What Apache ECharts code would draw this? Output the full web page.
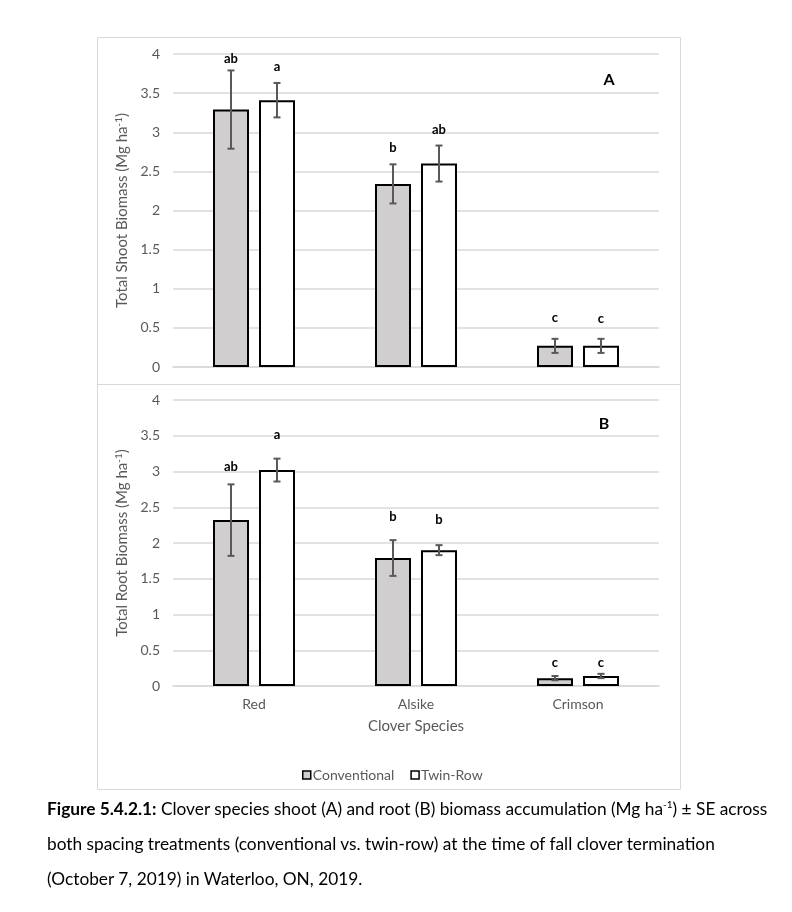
<!DOCTYPE html>
<html>
<head>
<meta charset="utf-8">
<script src="https://cdn.jsdelivr.net/npm/echarts@6/dist/echarts.min.js"></script>
<style>
  html, body { margin: 0; padding: 0; background: #fff; }
  #chart { position: absolute; left: 0; top: 0; width: 792px; height: 912px; }
  .caption {
    position: absolute; left: 47px; top: 791px;
    font-family: Lato, 'Open Sans', sans-serif; font-size: 17.3px; color: #000;
    line-height: 35px; white-space: nowrap;
  }
  .caption sup { font-size: 10px; vertical-align: 7px; line-height: 0; }
</style>
</head>
<body>
<div id="chart"></div>
<div class="caption">
  <b>Figure 5.4.2.1:</b> Clover species shoot (A) and root (B) biomass accumulation (Mg ha<sup>-1</sup>) ± SE across<br>
  both spacing treatments (conventional vs. twin-row) at the time of fall clover termination<br>
  (October 7, 2019) in Waterloo, ON, 2019.
</div>
<script>
// clover species on the x axis
const species = ['Red', 'Alsike', 'Crimson']
const yTicks = { min: 0, max: 4, interval: 0.5 }

// panel A: shoot biomass (Mg ha-1) and SE
const shootConv = [3.29, 2.34, 0.27]
const shootConvSE = [0.50, 0.25, 0.09]
const shootTwin = [3.41, 2.60, 0.27]
const shootTwinSE = [0.22, 0.23, 0.09]
const shootConvLetters = ['ab', 'b', 'c']
const shootTwinLetters = ['a', 'ab', 'c']
// height (Mg ha-1) where each letter sits
const shootConvLetterY = [3.94, 2.80, 0.63]
const shootTwinLetterY = [3.83, 3.03, 0.62]

// panel B: root biomass (Mg ha-1) and SE
const rootConv = [2.32, 1.79, 0.11]
const rootConvSE = [0.50, 0.25, 0.03]
const rootTwin = [3.02, 1.90, 0.14]
const rootTwinSE = [0.16, 0.07, 0.03]
const rootConvLetters = ['ab', 'b', 'c']
const rootTwinLetters = ['a', 'b', 'c']
const rootConvLetterY = [3.07, 2.37, 0.32]
const rootTwinLetterY = [3.51, 2.32, 0.33]

const grey = '#595959'
const gridColor = '#d9d9d9'
const font = 'Lato, "Open Sans", sans-serif'
const barW = 36
const barGapPx = 10
const half = (barW + barGapPx) / 2

//误差线 + 字母
function errItem(offset, letters) {
  return function (params, api) {
    let cat = api.value(0)
    let v = api.value(1)
    let se = api.value(2)
    let x = api.coord([cat, 0])[0] + offset
    let yHi = api.coord([cat, v + se])[1]
    let yLo = api.coord([cat, v - se])[1]
    let yL = api.coord([cat, api.value(3)])[1]
    let style = { stroke: grey, lineWidth: 2 }
    return {
      type: 'group',
      children: [
        { type: 'line', shape: { x1: x, y1: yHi, x2: x, y2: yLo }, style: style },
        { type: 'line', shape: { x1: x - 3.5, y1: yHi, x2: x + 3.5, y2: yHi }, style: style },
        { type: 'line', shape: { x1: x - 3.5, y1: yLo, x2: x + 3.5, y2: yLo }, style: style },
        {
          type: 'text',
          style: {
            x: x, y: yL, text: letters[params.dataIndex],
            align: 'center', verticalAlign: 'middle',
            font: 'bold 13px ' + font, fill: '#000',
          },
        },
      ],
    }
  }
}

function barSeries(name, data, axis, fill) {
  return {
    name: name,
    type: 'bar',
    xAxisIndex: axis,
    yAxisIndex: axis,
    data: data,
    barWidth: barW,
    barGap: (barGapPx / barW * 100) + '%',
    itemStyle: { color: fill, borderColor: '#000', borderWidth: 2 },
    emphasis: { disabled: true },
  }
}

function errSeries(axis, offset, vals, se, letters, ly) {
  return {
    type: 'custom',
    xAxisIndex: axis,
    yAxisIndex: axis,
    renderItem: errItem(offset, letters),
    data: vals.map((v, i) => [i, v, se[i], ly[i]]),
    z: 5,
    silent: true,
  }
}

function yAxisOf(grid, title) {
  return {
    type: 'value',
    gridIndex: grid,
    min: yTicks.min,
    max: yTicks.max,
    interval: yTicks.interval,
    axisLine: { show: false },
    axisTick: { show: false },
    axisLabel: { color: grey, fontSize: 14, fontFamily: font, margin: 13 },
    splitLine: { lineStyle: { color: gridColor, width: 1.5 } },
    name: title,
    nameLocation: 'middle',
    nameGap: 43,
    nameTextStyle: {
      color: grey, fontSize: 15, fontFamily: font,
      rich: { sup: { fontSize: 10, color: grey, fontFamily: font, verticalAlign: 'top', padding: [0, 0, 6, 0] } },
    },
  }
}

let myChart = echarts.init(document.getElementById('chart'))
myChart.setOption({
  animation: false,
  grid: [
    { left: 173, right: 133, top: 54, height: 313 },
    { left: 173, right: 133, top: 400, height: 286 },
  ],
  xAxis: [
    {
      type: 'category', gridIndex: 0, data: species,
      axisLine: { lineStyle: { color: gridColor, width: 1.5 } },
      axisTick: { show: false }, axisLabel: { show: false },
    },
    {
      type: 'category', gridIndex: 1, data: species,
      axisLine: { lineStyle: { color: gridColor, width: 1.5 } },
      axisTick: { show: false },
      axisLabel: { color: grey, fontSize: 14, fontFamily: font, margin: 11 },
      name: 'Clover Species', nameLocation: 'middle', nameGap: 33,
      nameTextStyle: { color: grey, fontSize: 15, fontFamily: font },
    },
  ],
  yAxis: [
    yAxisOf(0, 'Total Shoot Biomass (Mg ha{sup|-1})'),
    yAxisOf(1, 'Total Root Biomass (Mg ha{sup|-1})'),
  ],
  legend: {
    left: 297, top: 763,
    icon: 'rect', itemWidth: 8, itemHeight: 8, itemGap: 16,
    data: ['Conventional', 'Twin-Row'],
    textStyle: { color: grey, fontSize: 14, fontFamily: font, padding: [0, 0, 0, -3] },
    itemStyle: { borderWidth: 1.5, borderColor: '#000' },
    selectedMode: false,
  },
  graphic: [
    { type: 'rect', shape: { x: 97.5, y: 37.5, width: 583, height: 752 }, style: { fill: 'none', stroke: gridColor, lineWidth: 1 }, silent: true },
    { type: 'line', shape: { x1: 97.5, y1: 384.5, x2: 680.5, y2: 384.5 }, style: { stroke: gridColor, lineWidth: 1 }, silent: true },
    { type: 'text', x: 609, y: 80, style: { text: 'A', font: 'bold 16px ' + font, fill: '#000', align: 'center', verticalAlign: 'middle' } },
    { type: 'text', x: 604, y: 424, style: { text: 'B', font: 'bold 16px ' + font, fill: '#000', align: 'center', verticalAlign: 'middle' } },
  ],
  series: [
    barSeries('Conventional', shootConv, 0, '#d0cece'),
    barSeries('Twin-Row', shootTwin, 0, '#ffffff'),
    barSeries('Conventional', rootConv, 1, '#d0cece'),
    barSeries('Twin-Row', rootTwin, 1, '#ffffff'),
    errSeries(0, -half, shootConv, shootConvSE, shootConvLetters, shootConvLetterY),
    errSeries(0, half, shootTwin, shootTwinSE, shootTwinLetters, shootTwinLetterY),
    errSeries(1, -half, rootConv, rootConvSE, rootConvLetters, rootConvLetterY),
    errSeries(1, half, rootTwin, rootTwinSE, rootTwinLetters, rootTwinLetterY),
  ],
})
</script>
</body>
</html>
